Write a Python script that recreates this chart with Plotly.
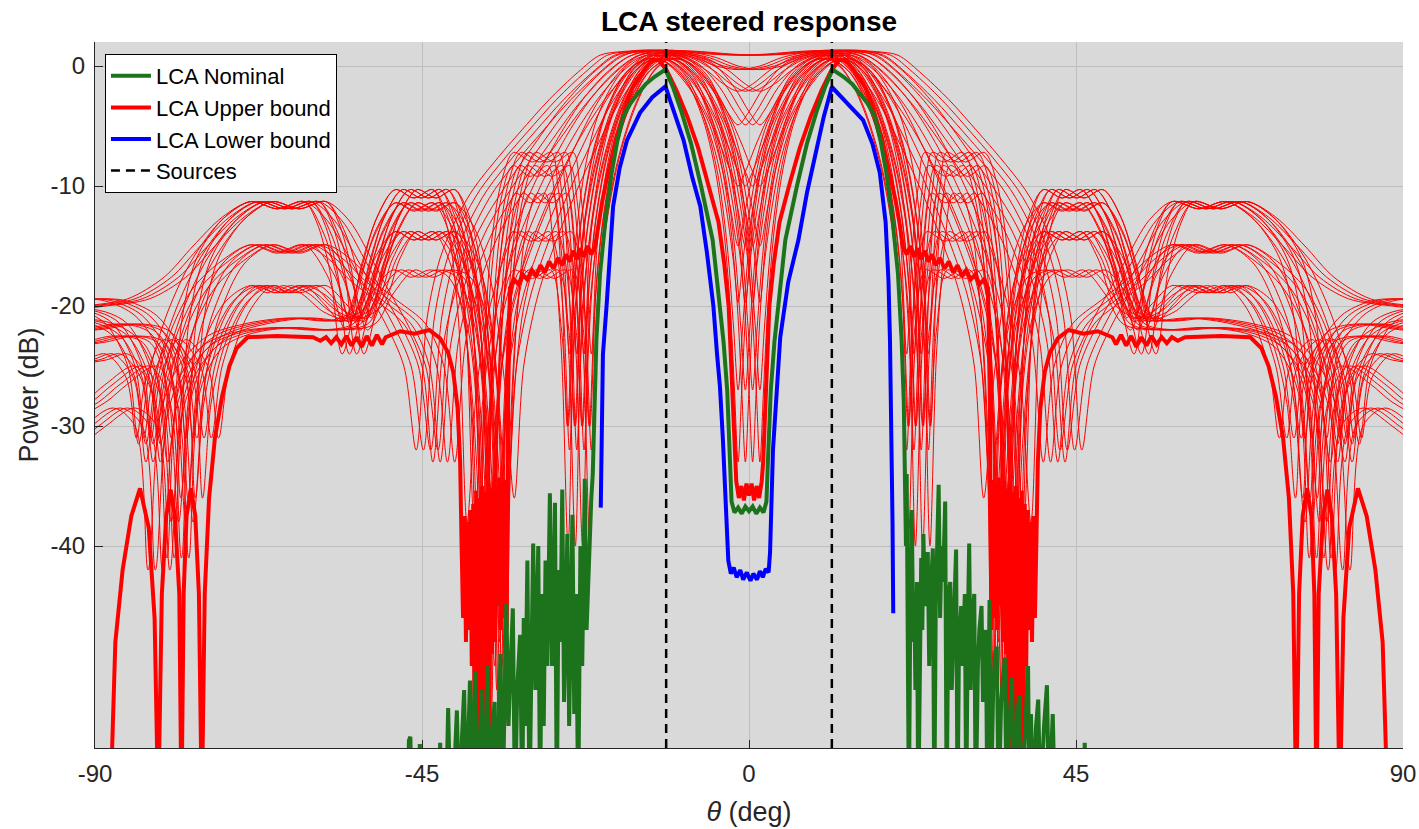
import plotly.graph_objects as go

# ---------------- axis / tick data ----------------
theta_ticks = [-90, -45, 0, 45, 90]
theta_ticktext = ["-90", "-45", "0", "45", "90"]
power_ticks = [0, -10, -20, -30, -40]
power_ticktext = ["0", "-10", "-20", "-30", "-40"]
x_range = [-90, 90]
y_range = [-56.83, 2.0]

# source directions (deg)
sources = [-11.4, 11.4]

# ---------------- LCA Upper bound (thick red), right half, mirrored ----------------
upper_half = [
    (0.0, -35.8), (0.35, -34.8), (0.7, -36.2), (1.05, -35.0), (1.4, -36.0), (1.75, -34.6),
    (1.95, -33.0), (2.3, -27.0), (2.8, -20.0), (3.4, -16.5), (4.2, -13.0), (5.6, -9.8),
    (7.0, -6.8), (8.5, -4.2), (10.0, -2.0), (11.3, -0.4), (12.4, 0.5), (13.3, 0.5),
    (14.5, -0.4), (16.0, -1.8), (17.0, -3.4), (18.3, -6.0), (19.4, -8.9), (20.2, -11.3),
    (20.8, -13.4), (21.2, -15.1),
    (21.7, -15.7), (22.2, -15.0), (22.7, -15.9), (23.2, -15.2), (23.7, -16.1), (24.2, -15.4),
    (24.7, -16.3), (25.2, -15.7), (25.7, -16.6), (26.3, -16.0), (26.9, -16.9), (27.5, -16.3),
    (28.1, -17.2), (28.7, -16.6), (29.3, -17.5), (29.9, -17.0), (30.5, -17.8), (31.1, -17.4),
    (31.7, -18.2), (32.3, -17.8), (32.9, -18.5), (33.15, -28.0), (33.35, -47.0),
    (33.55, -34.5), (33.75, -46.0), (33.95, -34.8), (34.15, -47.0), (34.35, -34.3), (34.55, -45.0),
    (34.75, -35.0), (34.95, -48.0), (35.15, -34.6), (35.35, -49.0), (35.55, -35.2), (35.75, -62.0),
    (35.95, -34.8), (36.15, -62.0), (36.35, -35.5), (36.55, -62.0), (36.75, -35.0), (36.95, -62.0),
    (37.15, -36.0), (37.35, -62.0), (37.55, -35.4), (37.75, -58.0), (37.95, -36.5), (38.15, -50.0),
    (38.35, -37.0), (38.55, -47.0), (38.75, -38.0), (38.95, -48.0), (39.15, -37.5), (39.35, -46.0),
    (39.55, -40.0), (39.75, -33.0), (40.1, -28.5), (40.7, -25.5), (41.4, -23.9), (42.5, -22.7),
    (44.0, -22.0), (46.0, -22.3), (48.0, -22.1), (50.0, -22.6),
    (50.5, -23.2), (51.2, -22.4), (51.9, -23.3), (52.6, -22.5), (53.3, -23.4), (54.0, -22.6),
    (54.7, -23.3), (55.4, -22.5), (56.1, -23.2), (56.8, -22.6), (57.5, -23.1), (58.2, -22.6),
    (59.0, -22.9), (60.0, -22.6), (65.0, -22.5), (69.0, -22.6), (70.5, -23.5), (71.5, -25.0),
    (72.5, -27.5), (73.5, -31.0), (74.3, -36.0), (74.9, -44.0), (75.3, -62.0), (75.7, -44.0),
    (76.2, -37.5), (76.8, -35.2), (77.4, -37.5), (77.8, -44.0), (78.1, -62.0), (78.4, -44.0),
    (79.0, -37.5), (79.6, -35.3), (80.2, -37.5), (80.8, -44.0), (81.3, -62.0), (81.8, -46.0),
    (82.6, -38.5), (83.8, -35.2), (85.0, -37.5), (86.2, -42.0), (87.2, -48.0), (87.9, -62.0),
    (92.0, -70.0),
]

# ---------------- LCA Nominal (green) ----------------
nominal_main_half = [
    (0.0, -37.1), (0.5, -36.7), (1.0, -37.3), (1.5, -36.8), (2.0, -37.2), (2.4, -36.3),
    (2.6, -33.0), (3.0, -27.0), (3.5, -23.0), (4.0, -20.0), (5.0, -14.5), (6.6, -10.0),
    (8.0, -6.4), (9.3, -3.8), (10.5, -1.7), (11.5, -0.3), (13.0, -0.9), (14.2, -1.5),
    (15.3, -2.3), (16.3, -3.1), (17.3, -4.2), (18.1, -6.2), (18.9, -8.9), (19.7, -12.5),
    (20.5, -17.3), (21.0, -22.8), (21.3, -28.0), (21.5, -34.0),
]
nominal_left_noise = [
    (-47.0, -62), (-46.8, -56.2), (-46.6, -55.9), (-46.4, -62), (-45.5, -62), (-45.3, -56.5),
    (-45.1, -62), (-42.8, -62), (-42.5, -56.4), (-42.2, -62), (-41.7, -62), (-41.4, -53.5),
    (-41.1, -62), (-40.5, -58), (-40.2, -53.7), (-39.9, -62), (-39.5, -56), (-39.2, -52),
    (-38.9, -62), (-38.4, -51.2), (-38.1, -62), (-37.7, -50.5), (-37.4, -62), (-37.0, -54),
    (-36.8, -52), (-36.5, -62), (-36.0, -50), (-35.7, -62), (-35.3, -55), (-35.0, -53),
    (-34.7, -62), (-34.2, -49), (-33.9, -62), (-33.4, -44.8), (-33.1, -55), (-32.8, -50),
    (-32.5, -45.2), (-32.2, -62), (-31.9, -52), (-31.5, -47.4), (-31.2, -62), (-31.0, -46),
    (-30.8, -55), (-30.5, -41.2), (-30.2, -62), (-29.95, -50), (-29.7, -39.8), (-29.4, -52),
    (-29.0, -40), (-28.75, -62), (-28.5, -44), (-28.25, -55), (-28.0, -41.2), (-27.75, -50),
    (-27.4, -35.6), (-27.1, -50), (-26.9, -45), (-26.7, -36.4), (-26.45, -62), (-26.2, -42),
    (-25.95, -48), (-25.7, -35.3), (-25.45, -53), (-25.2, -46), (-25.0, -39), (-24.75, -55),
    (-24.5, -45), (-24.3, -37.4), (-24.05, -54), (-23.8, -44), (-23.5, -62), (-23.2, -40),
    (-22.95, -50), (-22.6, -34.4), (-22.35, -47), (-22.1, -42), (-21.9, -40.1), (-21.7, -36),
]
nominal_right_noise = [
    (21.6, -40), (21.7, -34), (21.85, -50), (22.0, -62), (22.2, -45), (22.4, -37), (22.6, -48),
    (22.75, -44), (22.9, -52), (23.1, -43), (23.3, -62), (23.5, -46), (23.7, -41), (23.85, -47),
    (24.0, -39), (24.2, -45), (24.4, -42), (24.6, -40.5), (24.8, -50), (25.0, -44), (25.3, -40.2),
    (25.5, -62), (25.7, -45), (25.9, -38), (26.1, -34.9), (26.3, -46), (26.5, -40), (26.7, -43),
    (27.0, -36.3), (27.2, -62), (27.45, -44), (27.7, -43), (27.9, -52), (28.2, -46), (28.5, -40.3),
    (28.7, -62), (28.9, -48), (29.2, -45), (29.4, -50), (29.7, -44), (29.9, -62), (30.1, -47),
    (30.3, -39.8), (30.5, -52), (30.7, -46), (31.0, -44), (31.2, -62), (31.5, -50), (31.7, -47),
    (32.0, -45), (32.2, -53), (32.4, -48), (32.6, -47), (32.8, -62), (33.1, -44.5), (33.3, -62),
    (33.6, -52), (33.85, -49), (34.1, -48.4), (34.35, -62), (34.7, -53), (34.95, -51),
    (35.2, -49.3), (35.45, -62), (35.8, -55), (36.2, -51), (36.5, -62), (36.9, -54), (37.2, -52.5),
    (37.5, -62), (38.0, -56), (38.4, -50), (38.6, -62), (38.8, -54), (39.1, -62), (39.5, -55),
    (39.8, -52.8), (40.1, -62), (40.6, -55), (41.0, -51.6), (41.3, -62), (41.8, -54), (42.1, -62),
    (46.0, -62), (46.2, -56.4), (46.4, -62),
]

# ---------------- LCA Lower bound (blue) ----------------
lower_bound = [
    (-20.4, -36.8), (-20.25, -30), (-20.1, -24), (-19.6, -20), (-19.2, -16), (-18.7, -11.7),
    (-17.8, -8.5), (-16.8, -6.2), (-15.0, -3.9), (-13.3, -2.6), (-11.5, -1.7), (-10.3, -3.8),
    (-9.0, -6.2), (-7.8, -9.3), (-6.7, -11.7), (-5.8, -15.5), (-4.9, -20), (-4.4, -24),
    (-4.0, -26.7), (-3.6, -31), (-3.2, -36), (-2.85, -41.2), (-2.5, -42.3), (-2.1, -41.8),
    (-1.7, -42.6), (-1.2, -42.0), (-0.8, -42.8), (-0.3, -42.2), (0.2, -42.9), (0.6, -42.3),
    (1.1, -42.8), (1.5, -42.1), (1.9, -42.6), (2.3, -41.9), (2.7, -42.2), (2.9, -40.5),
    (3.3, -32), (3.8, -27), (4.3, -22.6), (5.4, -18), (6.8, -14.5), (8.0, -10.5), (9.3, -7.0),
    (10.3, -4.2), (11.4, -1.75), (12.7, -2.6), (14.2, -3.5), (15.7, -4.5), (17.0, -6.5),
    (18.0, -8.9), (18.8, -13), (19.2, -18), (19.4, -22.8), (19.6, -30), (19.75, -38), (19.85, -45.6),
]

# ---------------- perturbed responses (thin red), right-half profiles ----------------
resp_a = [(0, 0.9), (4, 1.0), (8, 1.2), (12, 1.3), (16, 1.2), (19, 0.9), (22, -0.5), (26, -2.8),
          (30, -5.5), (33, -7.6), (36.5, -10.3), (39, -13), (41, -16), (42.8, -21), (44.3, -32),
          (46, -25), (48.5, -21.5), (51, -18.8), (53.5, -16), (56.5, -12.9), (59.7, -11.3),
          (63.4, -11.9), (67.1, -11.3), (71, -12.6), (75, -15), (79, -17.6), (84, -19.4),
          (90, -20), (96, -20.4)]
resp_b = [(0, -0.3), (3, 0.0), (6, 0.7), (10, 1.2), (14, 1.3), (17, 0.8), (20, -0.6), (24, -3.2),
          (28, -6.5), (32, -10), (35.5, -13.5), (38.5, -18), (40.5, -23), (42, -33), (43.5, -25),
          (46, -21.5), (50, -19.5), (53.5, -17.8), (56.5, -16), (59.7, -14.9), (63.4, -15.6),
          (67.1, -14.9), (71, -16.2), (75, -18.5), (78, -22), (80, -26.5), (81.5, -33), (83, -26),
          (86, -22.5), (90, -21.3), (96, -21)]
resp_c = [(0, -2.1), (2, -1.5), (4.5, -0.3), (8, 0.8), (12, 1.2), (15, 0.8), (18, -0.5), (21, -2.5),
          (24, -5.2), (27, -8.5), (30, -12.5), (32.5, -16.5), (34.5, -21), (36, -27), (37.3, -38),
          (38.5, -21), (40, -13.5), (42, -10.3), (44.6, -11.0), (47.2, -10.3), (49.6, -12.5),
          (51.8, -16.5), (53.5, -21), (55, -18), (57, -14), (59.7, -11.3), (63.4, -11.9),
          (67.1, -11.3), (71, -12.8), (74.5, -16), (76.5, -21), (78, -31), (79.5, -24), (83, -20.8),
          (87, -19.6), (90, -19.4), (96, -19.8)]
resp_d = [(0, -4.9), (1.5, -3.8), (3.5, -1.8), (6.5, 0.2), (10, 1.0), (13.5, 0.9), (16.5, -0.6),
          (19.5, -3.2), (22.5, -6.8), (25.5, -10.8), (28, -14.5), (30.5, -19), (32.5, -25),
          (33.8, -36), (35.2, -26), (37, -18), (39.3, -13.5), (42, -11.4), (44.6, -12), (47.2, -11.4),
          (49.8, -13.8), (52, -17.5), (54.5, -21.3), (57, -19.8), (59.7, -18.3), (63.4, -18.9),
          (67.1, -18.3), (70.5, -19.6), (73.5, -23), (75.5, -28), (76.7, -36), (78, -26), (81, -22.2),
          (85, -21.5), (90, -21.9), (96, -22.3)]
resp_e = [(0, -10), (1, -8.8), (2.5, -6.5), (4.5, -3.8), (7, -1.2), (10, 0.6), (12.5, 0.9), (15, 0.2),
          (17.5, -1.8), (19.5, -4.5), (21.2, -9), (22.4, -15), (23.2, -24), (24, -15), (24.8, -10),
          (25.7, -7.2), (28.3, -8.0), (30.9, -7.2), (32.5, -9.5), (33.8, -14), (34.7, -21),
          (35.4, -38), (36.3, -25), (38, -18), (40, -15), (42, -13.8), (44.6, -14.5), (47.2, -13.8),
          (49.8, -15.8), (52, -19.5), (54, -22), (56.5, -17.5), (59.7, -14.9), (63.4, -15.5),
          (67.1, -14.9), (71, -16.5), (74.5, -21), (76.5, -27), (78, -38), (79.5, -27), (82, -23),
          (86, -22.5), (90, -23), (96, -23.5)]
resp_f = [(0, -19.7), (0.6, -16.5), (1.6, -12), (3, -7.5), (5, -3.8), (7.5, -1), (10.5, 0.5),
          (12.5, 0.6), (15.5, -0.6), (18, -3.5), (20, -7.5), (21.6, -13), (22.7, -20), (23.5, -30),
          (24.3, -18), (25.1, -11.5), (26.2, -8.3), (28.6, -9.2), (31, -8.3), (32.6, -11), (33.9, -17),
          (35, -28), (35.8, -48), (36.8, -28), (38.3, -17), (40, -12.5), (42, -10.3), (44.6, -11),
          (47.2, -10.3), (49.7, -12.6), (51.9, -17), (54, -21), (57, -20.5), (60, -19), (62.6, -18.3),
          (64.8, -18.9), (67, -18.3), (70, -20.2), (73, -25), (74.5, -31), (76, -25), (79, -22.8),
          (81.5, -26), (82.8, -31), (84.2, -26), (87, -24), (90, -24.5), (96, -25)]
resp_g = [(0, -33), (0.5, -27), (1.1, -20), (2.0, -13.5), (3.2, -8.5), (4.8, -4.5), (7, -1.4),
          (9.8, 0.3), (12.3, 0.6), (14.5, -0.4), (17, -3), (19.2, -7), (20.8, -11.5), (21.9, -17),
          (22.7, -25), (23.4, -40), (24.3, -24), (25.5, -14.5), (26.6, -10.6), (28.6, -11.4),
          (30.6, -10.6), (32, -13), (33.2, -19), (34.2, -30), (35, -55), (35.8, -30), (37.5, -21),
          (40, -17.5), (42.5, -17), (45, -17.6), (47.5, -17), (50.5, -19), (53, -21.5), (58, -22),
          (64, -21.8), (70, -22.3), (74, -23.5), (77, -27), (78.6, -41), (80.2, -28), (83, -25),
          (87, -26.5), (90, -28), (96, -30)]
resp_h = [(0, -27), (0.6, -22), (1.5, -15), (2.8, -9), (4.6, -4.5), (7, -1), (10, 0.7), (12, 0.9),
          (14.5, -0.3), (17.2, -3.5), (19.5, -8), (21.2, -13.5), (22.4, -20), (23.2, -32), (24, -21),
          (25, -15.5), (26, -13.8), (28.5, -14.6), (31, -13.8), (32.4, -16), (33.6, -22), (34.6, -34),
          (35.5, -50), (36.5, -30), (38.3, -18), (40.3, -13), (42, -11.4), (44.6, -12.1),
          (47.2, -11.4), (49.8, -13.6), (52, -18), (54.5, -24), (56.2, -17), (58, -13),
          (59.7, -11.3), (63.4, -11.9), (67.1, -11.3), (71, -12.8), (75, -16), (78.5, -20.5),
          (81, -25.5), (82.5, -31.5), (84, -25), (87, -21.5), (90, -20.5), (96, -20)]
resp_i = [(0, -15), (1, -12), (2.3, -8.3), (4.2, -4.5), (7, -1.6), (10, 0.3), (12.5, 0.6), (15, -0.3),
          (17.5, -2.8), (19.7, -6.5), (21.3, -11.5), (22.5, -18), (23.4, -30), (24.3, -22),
          (25.8, -17), (28.3, -17.7), (30.9, -17), (32.3, -19.5), (33.5, -25), (34.5, -36),
          (35.2, -52), (36, -33), (37.8, -21), (40.2, -15.5), (42, -13.8), (44.6, -14.5),
          (47.2, -13.8), (49.5, -16), (52, -20), (56, -21.2), (62, -21), (68, -21.5), (73, -22.5),
          (77, -25), (79.5, -29), (81.2, -42), (83, -30), (86, -28.5), (90, -30), (96, -33)]
perturbed_profiles = [resp_a, resp_b, resp_c, resp_d, resp_e, resp_f, resp_g, resp_h, resp_i]
pointing_offsets = [-1.5, -0.5, 0.5, 1.5]

# ---------------- styling ----------------
RED = "rgb(255,0,0)"
GREEN = "rgb(28,115,28)"
BLUE = "rgb(0,0,255)"
AXC = "rgb(38,38,38)"
FONT = "Liberation Sans, Arial, Helvetica, sans-serif"


def mirror(half):
    xs = [-p[0] for p in reversed(half[1:])] + [p[0] for p in half]
    ys = [p[1] for p in reversed(half[1:])] + [p[1] for p in half]
    return xs, ys


fig = go.Figure()

for prof in perturbed_profiles:
    px, py = mirror(prof)
    for off in pointing_offsets:
        fig.add_trace(go.Scatter(
            x=[v + off for v in px], y=py, mode="lines",
            line=dict(color=RED, width=1, shape="spline", smoothing=0.9),
            showlegend=False, hoverinfo="skip"))

ux, uy = mirror(upper_half)
fig.add_trace(go.Scatter(x=ux, y=uy, mode="lines", name="LCA Upper bound", legendrank=2,
                         line=dict(color=RED, width=4)))

mx, my = mirror(nominal_main_half)
gx = [p[0] for p in nominal_left_noise] + mx + [p[0] for p in nominal_right_noise]
gy = [p[1] for p in nominal_left_noise] + my + [p[1] for p in nominal_right_noise]
fig.add_trace(go.Scatter(x=gx, y=gy, mode="lines", name="LCA Nominal", legendrank=1,
                         line=dict(color=GREEN, width=4)))

fig.add_trace(go.Scatter(x=[p[0] for p in lower_bound], y=[p[1] for p in lower_bound],
                         mode="lines", name="LCA Lower bound", legendrank=3,
                         line=dict(color=BLUE, width=4)))

sx, sy = [], []
for s in sources:
    sx += [s, s, None]
    sy += [y_range[0], y_range[1], None]
fig.add_trace(go.Scatter(x=sx, y=sy, mode="lines", name="Sources", legendrank=4,
                         line=dict(color="black", width=2.5, dash="9px,6px")))

fig.update_layout(
    width=1419, height=829,
    margin=dict(l=95, r=16, t=42, b=81, autoexpand=False),
    paper_bgcolor="white", plot_bgcolor="rgb(217,217,217)",
    font=dict(family=FONT, size=24, color=AXC),
    title=dict(text="<b>LCA steered response</b>", x=0.5, xref="paper", xanchor="center",
               y=0.974, yref="container", yanchor="middle",
               font=dict(family=FONT, size=28, color="black")),
    legend=dict(x=0.0076, y=0.983, xanchor="left", yanchor="top", bgcolor="white",
                bordercolor="black", borderwidth=1, font=dict(family=FONT, size=22, color="black"),
                tracegroupgap=0, itemwidth=40),
    showlegend=True,
)
fig.update_xaxes(range=x_range, tickvals=theta_ticks, ticktext=theta_ticktext, automargin=False,
                 showgrid=True, gridcolor="rgb(190,190,190)", gridwidth=1,
                 zeroline=False, showline=True, linecolor=AXC, linewidth=1,
                 ticks="inside", ticklen=8, tickcolor=AXC, ticklabelstandoff=4,
                 tickfont=dict(size=24, color=AXC),
                 title=dict(text="<i>θ</i> (deg)", font=dict(size=27, color=AXC), standoff=16))
fig.update_yaxes(range=y_range, tickvals=power_ticks, ticktext=power_ticktext, automargin=False,
                 showgrid=True, gridcolor="rgb(190,190,190)", gridwidth=1,
                 zeroline=False, showline=True, linecolor=AXC, linewidth=1,
                 ticks="inside", ticklen=8, tickcolor=AXC, ticklabelstandoff=4,
                 tickfont=dict(size=24, color=AXC),
                 title=dict(text="Power (dB)", font=dict(size=27, color=AXC), standoff=4))

fig.write_html("out.html", config={"displayModeBar": False},
               post_script="document.body.style.margin='0px';document.body.style.overflow='hidden';")
